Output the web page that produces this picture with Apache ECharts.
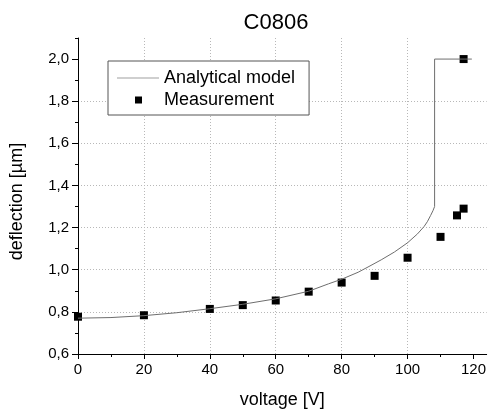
<!DOCTYPE html>
<html>
<head>
<meta charset="utf-8">
<title>C0806</title>
<style>
  html, body { margin: 0; padding: 0; background: #fff; }
  #main { width: 489px; height: 414px; }
</style>
</head>
<body>
<div id="main"></div>
<script src="https://cdn.jsdelivr.net/npm/echarts@6/dist/echarts.min.js"></script>
<script>
    // analytical model curve
    var modelV = [0, 10, 20, 30, 40, 50, 60, 70, 76, 80, 85, 88, 92, 96, 100, 103, 105, 106, 107, 107.7, 108.2, 108.2, 119.5];
    var modelD = [0.770, 0.773, 0.782, 0.796, 0.815, 0.836, 0.862, 0.898, 0.933, 0.955, 0.988, 1.013, 1.047, 1.084, 1.128, 1.170, 1.205, 1.228, 1.258, 1.280, 1.300, 2.0, 2.0];

    // measured points
    var measV = [0, 20, 40, 50, 60, 70, 80, 90, 100, 110, 115, 117, 117];
    var measD = [0.777, 0.784, 0.814, 0.832, 0.854, 0.896, 0.939, 0.971, 1.057, 1.156, 1.258, 1.290, 2.0];

    // tick positions
    var xMajor = [0, 20, 40, 60, 80, 100, 120];
    var xMinor = [10, 30, 50, 70, 90, 110];
    var yMajor = [0.6, 0.8, 1.0, 1.2, 1.4, 1.6, 1.8, 2.0];
    var yMinor = [0.7, 0.9, 1.1, 1.3, 1.5, 1.7, 1.9, 2.1];

    var font = 'Arial, "Liberation Sans", sans-serif';
    var gridLine = { show: true, showMinLine: false, showMaxLine: false, lineStyle: { color: '#b8b8b8', type: [1, 2] } };

    function pairs(xs, ys) {
        var out = [];
        for (var i = 0; i < xs.length; i++) out.push([xs[i], ys[i]]);
        return out;
    }

    var myChart = echarts.init(document.getElementById('main'));
    var option = {
        backgroundColor: '#fff',
        animation: false,
        title: {
            text: 'C0806',
            left: 271,
            top: 7,
            textAlign: 'center',
            textStyle: { fontFamily: font, fontSize: 22, fontWeight: 'normal', color: '#000' }
        },
        grid: { left: 78, right: 1, top: 38, bottom: 60 },
        legend: {
            orient: 'vertical',
            left: 108,
            top: 61,
            padding: [7, 14, 5, 9],
            itemGap: 2,
            itemWidth: 42,
            itemHeight: 7,
            borderColor: '#555',
            borderWidth: 1,
            backgroundColor: '#fff',
            textStyle: { fontFamily: font, fontSize: 18, color: '#000', lineHeight: 20 },
            data: [
                {
                    name: 'Analytical model',
                    icon: 'path://M0,0L42,7M0,3L42,3L42,4L0,4Z',
                    itemStyle: { color: '#a0a0a0', borderWidth: 0 }
                },
                {
                    name: 'Measurement',
                    icon: 'path://M0,0L42,7M18,0L25,0L25,7L18,7Z',
                    itemStyle: { color: '#000', borderWidth: 0 }
                }
            ]
        },
        xAxis: [{
            type: 'value',
            min: 0,
            max: 124,
            interval: 20,
            name: 'voltage [V]',
            nameLocation: 'middle',
            nameGap: 37,
            nameTextStyle: { fontFamily: font, fontSize: 18, color: '#000' },
            axisLine: { lineStyle: { color: '#000', width: 1 } },
            axisTick: { length: 5, customValues: xMajor, lineStyle: { color: '#000' } },
            axisLabel: {
                fontFamily: font, fontSize: 15, color: '#000', margin: 8,
                customValues: xMajor
            },
            splitLine: gridLine
        }, {
            type: 'value',
            min: 0,
            max: 124,
            position: 'bottom',
            axisLine: { show: false },
            axisTick: { show: true, length: 3, customValues: xMinor, lineStyle: { color: '#000' } },
            axisLabel: { show: false },
            splitLine: { show: false }
        }],
        yAxis: [{
            type: 'value',
            min: 0.6,
            max: 2.1,
            interval: 0.2,
            name: 'deflection [µm]',
            nameLocation: 'middle',
            nameGap: 52,
            nameTextStyle: { fontFamily: font, fontSize: 18, color: '#000', padding: [0, 11, 0, 0] },
            axisLine: { show: true, lineStyle: { color: '#000', width: 1 } },
            axisTick: { show: true, length: 6, customValues: yMajor, lineStyle: { color: '#000' } },
            axisLabel: {
                fontFamily: font, fontSize: 15, color: '#000', margin: 9,
                customValues: yMajor,
                formatter: function (v) { return v.toFixed(1).replace('.', ','); }
            },
            splitLine: gridLine
        }, {
            type: 'value',
            min: 0.6,
            max: 2.1,
            position: 'left',
            axisLine: { show: false },
            axisTick: { show: true, length: 3, customValues: yMinor, lineStyle: { color: '#000' } },
            axisLabel: { show: false },
            splitLine: { show: false }
        }],
        series: [
            {
                name: 'Analytical model',
                type: 'line',
                symbol: 'none',
                itemStyle: { color: '#a0a0a0' },
                lineStyle: { color: '#6e6e6e', width: 1 },
                data: pairs(modelV, modelD)
            },
            {
                name: 'Measurement',
                type: 'scatter',
                symbol: 'rect',
                symbolSize: 8,
                itemStyle: { color: '#000', opacity: 1 },
                data: pairs(measV, measD)
            }
        ]
    };
    myChart.setOption(option);
</script>
</body>
</html>
